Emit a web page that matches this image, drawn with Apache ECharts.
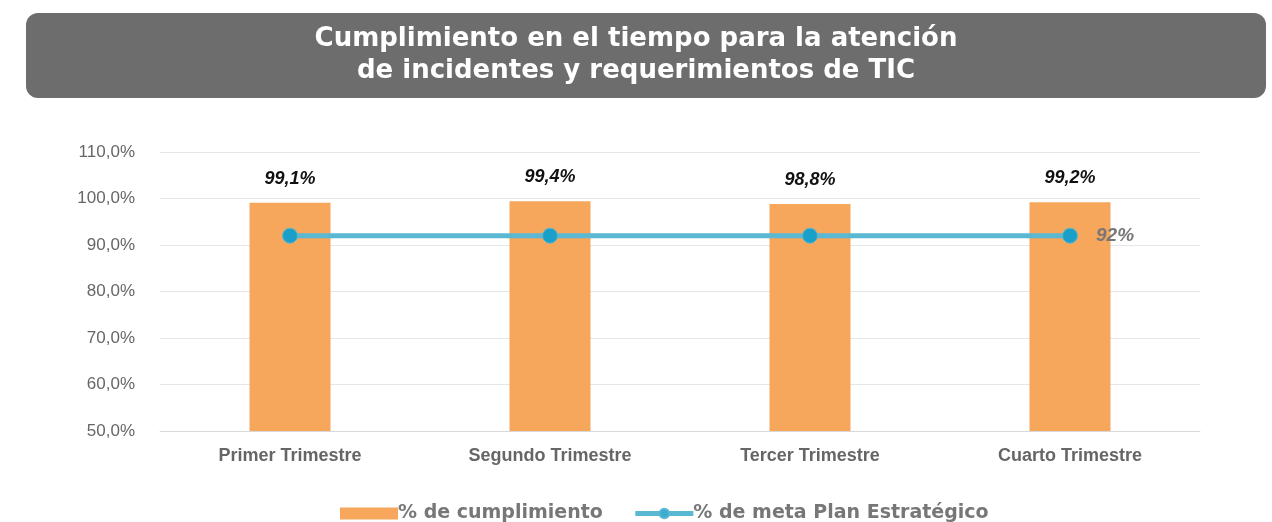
<!DOCTYPE html>
<html>
<head>
<meta charset="utf-8">
<script src="https://cdn.jsdelivr.net/npm/echarts@6/dist/echarts.min.js"></script>
<style>
  html, body { margin: 0; padding: 0; background: #fff; }
  #chart { width: 1272px; height: 522px; }
</style>
</head>
<body>
<div id="chart"></div>
<script>
const categories = ["Primer Trimestre", "Segundo Trimestre", "Tercer Trimestre", "Cuarto Trimestre"];
const cumplimiento = [99.1, 99.4, 98.8, 99.2];
const meta = [92, 92, 92, 92];
const titleLines = ["Cumplimiento en el tiempo para la atención", "de incidentes y requerimientos de TIC"];

const chart = echarts.init(document.getElementById("chart"));

const titleFont = "bold 26px 'DejaVu Sans', Verdana, sans-serif";
const labelFont = "'Liberation Sans', Arial, sans-serif";

const option = {
  animation: false,
  graphic: [
    {
      type: "rect",
      left: 26,
      top: 13,
      shape: { width: 1240, height: 85, r: 12 },
      style: { fill: "#6d6d6d" },
    },
    // one text per title line so each stays centred
    ...titleLines.map((line, i) => ({
      type: "text",
      left: "center",
      top: 26 + i * 32,
      style: { text: line, fill: "#fff", font: titleFont },
    })),
  ],
  grid: { left: 160, right: 72, top: 152, bottom: 91 },
  legend: {
    left: 335,
    top: 499,
    itemWidth: 58,
    itemHeight: 12,
    itemGap: 30,
    textStyle: {
      color: "#777",
      fontSize: 19,
      fontWeight: "bold",
      fontFamily: "'DejaVu Sans', Verdana, sans-serif",
      padding: [0, 0, 0, -5],
    },
    data: [
      { name: "% de cumplimiento", icon: "rect" },
      { name: "% de meta Plan Estratégico", lineStyle: { width: 5 }, itemStyle: { color: "#3aaed1" } },
    ],
  },
  xAxis: {
    type: "category",
    data: categories,
    axisTick: { show: false },
    axisLine: { lineStyle: { color: "#d9d9d9", width: 1 } },
    axisLabel: {
      color: "#666",
      fontSize: 18,
      fontWeight: "bold",
      fontFamily: labelFont,
      margin: 16,
    },
  },
  yAxis: {
    type: "value",
    min: 50,
    max: 110,
    interval: 10,
    axisLine: { show: false },
    axisTick: { show: false },
    splitLine: { lineStyle: { color: "#e6e6e6", width: 1 } },
    axisLabel: {
      color: "#666",
      fontSize: 17,
      fontFamily: labelFont,
      margin: 25,
      formatter: (v) => v.toFixed(1).replace(".", ",") + "%",
    },
  },
  series: [
    {
      name: "% de cumplimiento",
      type: "bar",
      data: cumplimiento,
      barWidth: 81,
      itemStyle: { color: "#f6a75c" },
      label: {
        show: true,
        position: "top",
        distance: 15,
        color: "#111",
        fontSize: 18,
        fontWeight: "bold",
        fontStyle: "italic",
        fontFamily: labelFont,
        formatter: (p) => p.value.toFixed(1).replace(".", ",") + "%",
      },
    },
    {
      name: "% de meta Plan Estratégico",
      type: "line",
      data: meta,
      symbol: "circle",
      symbolSize: 15,
      lineStyle: { color: "#5bb8d3", width: 5 },
      itemStyle: { color: "#1aa0c8", borderColor: "#5bb8d3", borderWidth: 1 },
      label: {
        show: true,
        position: "right",
        distance: 18,
        color: "#777",
        fontSize: 19,
        fontWeight: "bold",
        fontStyle: "italic",
        fontFamily: labelFont,
        formatter: (p) => (p.dataIndex === meta.length - 1 ? p.value + "%" : ""),
      },
    },
  ],
};

chart.setOption(option);
</script>
</body>
</html>
